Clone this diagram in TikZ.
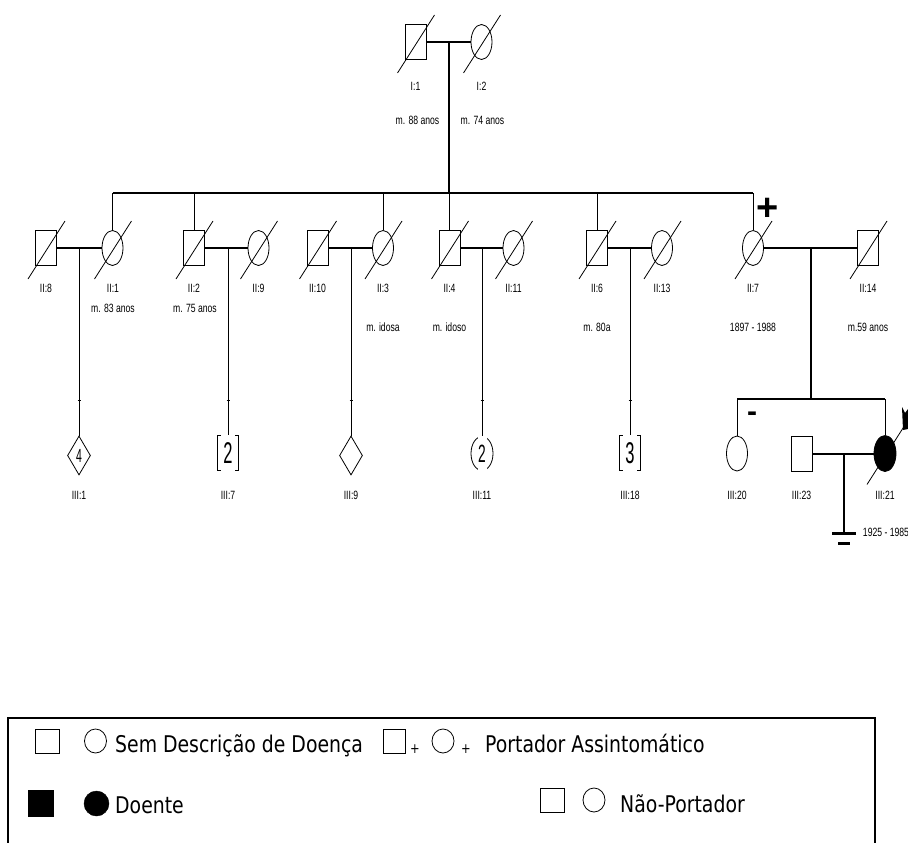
\documentclass[tikz,border=0pt]{standalone}
\usepackage{fontspec}
\setmainfont{Liberation Sans}
\newfontfamily\narrowfont[FakeStretch=0.72]{Liberation Sans}
\newfontfamily\numfont[FakeStretch=0.55]{Liberation Sans}
\newfontfamily\legendfont[FakeStretch=0.82]{DejaVu Sans}
\usetikzlibrary{shapes.geometric}
\newcommand\deadmark[1]{\draw[thinl] ([shift={(-18,31)}]#1.center) -- ([shift={(19,-27)}]#1.center);}
\begin{document}
\begin{tikzpicture}[x=1pt,y=-1pt,
  thinl/.style={line width=0.8pt},
  thickl/.style={line width=2pt},
  male/.style={draw, rectangle, minimum width=21pt, minimum height=35pt, inner sep=0pt, line width=0.8pt},
  female/.style={draw, ellipse, minimum width=21pt, minimum height=35pt, inner sep=0pt, line width=0.8pt},
  unk/.style={draw, diamond, minimum width=23pt, minimum height=39pt, inner sep=0pt, line width=0.8pt},
  lbl/.style={font=\narrowfont\fontsize{12}{12}\selectfont, inner sep=0pt},
  bignum/.style={fill=white, inner sep=0pt, minimum width=14pt, minimum height=40pt, font=\numfont\fontsize{30}{30}\selectfont},
  legtxt/.style={font=\legendfont\fontsize{23}{23}\selectfont, inner sep=0pt, anchor=base west},
  legsq/.style={draw, rectangle, minimum width=24pt, minimum height=24pt, inner sep=0pt, line width=0.8pt},
  legci/.style={draw, ellipse, minimum width=22pt, minimum height=24pt, inner sep=0pt, line width=0.8pt},
  tick/.style={line width=0.8pt}]
\useasboundingbox (0,0) rectangle (908,843);
\clip (0,0) rectangle (908,843);
% ---------------- Generation I
\node[male] (I1) at (415.5,42) {};
\node[female] (I2) at (481.5,42) {};
\deadmark{I1}\deadmark{I2}
\draw[thickl] (I1.east) -- (I2.west);
\coordinate (m1) at (449,42);
\coordinate (s1) at (449,193);
\draw[thickl] (m1) -- (s1);
\node[lbl] (lI1) at (415.5,86) {I:1};
\node[lbl] (lI2) at (481.5,86) {I:2};
\node[lbl] (dI1) at (417.5,120) {m. 88 anos};
\node[lbl] (dI2) at (482.5,120) {m. 74 anos};
% ---------------- Generation II
\node[male] (II8) at (46,248) {};
\node[female] (II1) at (112.5,248) {};
\node[male] (II2) at (194,248) {};
\node[female] (II9) at (258.5,248) {};
\node[male] (II10) at (317.5,248) {};
\node[female] (II3) at (383,248) {};
\node[male] (II4) at (449.5,248) {};
\node[female] (II11) at (513.5,248) {};
\node[male] (II6) at (597,248) {};
\node[female] (II13) at (662,248) {};
\node[female] (II7) at (753,248) {};
\node[male] (II14) at (868,248) {};
\foreach \n in {II8,II1,II2,II9,II10,II3,II4,II11,II6,II13,II7,II14}{\deadmark{\n}}
% sibship
\draw[thickl] (II1.north |- s1) -- (II7.north |- s1);
\foreach \n in {II1,II2,II3,II4,II6,II7}{\draw[thinl] (\n.north |- s1) -- (\n.north);}
% marriages
\draw[thickl] (II8.east) -- (II1.west);
\draw[thickl] (II2.east) -- (II9.west);
\draw[thickl] (II10.east) -- (II3.west);
\draw[thickl] (II4.east) -- (II11.west);
\draw[thickl] (II6.east) -- (II13.west);
\draw[thickl] (II7.east) -- (II14.west);
% labels
\node[lbl] (lII8) at (46,288) {II:8};
\node[lbl] (lII1) at (113,288) {II:1};
\node[lbl] (lII2) at (194,288) {II:2};
\node[lbl] (lII9) at (258.5,288) {II:9};
\node[lbl] (lII10) at (317.5,288) {II:10};
\node[lbl] (lII3) at (383,288) {II:3};
\node[lbl] (lII4) at (449.5,288) {II:4};
\node[lbl] (lII11) at (513.5,288) {II:11};
\node[lbl] (lII6) at (597,288) {II:6};
\node[lbl] (lII13) at (662,288) {II:13};
\node[lbl] (lII7) at (753,288) {II:7};
\node[lbl] (lII14) at (868,288) {II:14};
\node[lbl] (dII1) at (113,308) {m. 83 anos};
\node[lbl] (dII2) at (195,308) {m. 75 anos};
\node[lbl] (dII3) at (383,327) {m. idosa};
\node[lbl] (dII4) at (449.5,327) {m. idoso};
\node[lbl] (dII6) at (597,327) {m. 80a};
\node[lbl] (dII7) at (753,327) {1897 - 1988};
\node[lbl] (dII14) at (868,327) {m.59 anos};
\node[inner sep=0pt, font=\bfseries\fontsize{38}{38}\selectfont] (plus7) at (768,209) {+};
% ---------------- Generation III
\node[unk, font=\numfont\fontsize{19}{19}\selectfont] (III1) at (79,455.5) {4};
\node[male] (III7) at (228,453) {};
\node[bignum] (nIII7) at (228,453) {2};
\node[unk] (III9) at (351,455.5) {};
\node[female, minimum width=22pt, minimum height=34pt] (III11) at (482,453.5) {};
\node[bignum, minimum width=9pt, minimum height=36pt, font=\numfont\fontsize{25}{25}\selectfont] (nIII11) at (482,453.5) {2};
\node[male] (III18) at (630,453) {};
\node[bignum] (nIII18) at (630,453) {3};
% descent lines
\coordinate (c1) at (79,248);
\coordinate (c2) at (228,248);
\coordinate (c3) at (351,248);
\coordinate (c4) at (482,248);
\coordinate (c5) at (630,248);
\draw[thinl] (c1) -- (III1.north);
\draw[thinl] (c2) -- (III7.north);
\draw[thinl] (c3) -- (III9.north);
\draw[thinl] (c4) -- (III11.north);
\draw[thinl] (c5) -- (III18.north);
\foreach \x in {79,228,351,482,630}{\draw[tick] (\x-1.5,400) -- (\x+1.5,400);}
% II:7 family
\node[female] (III20) at (737,453.5) {};
\node[male] (III23) at (801.5,453.5) {};
\node[female, fill=black, minimum width=22pt, minimum height=36pt] (III21) at (885,453.5) {};
\deadmark{III21}
\coordinate (c6) at (811,248);
\coordinate (s3) at (811,399);
\draw[thickl] (c6) -- (s3);
\draw[thickl] (III20.north |- s3) -- (III21.north |- s3);
\draw[thinl] (III20.north |- s3) -- (III20.north);
\draw[thinl] (III21.north |- s3) -- (III21.north);
\draw[thickl] (III23.east) -- (III21.west);
\coordinate (c7) at (844,453.5);
\coordinate (nb) at (844,533);
\draw[thickl] (c7) -- (nb);
\draw[line width=3pt] ([xshift=-12pt]nb) -- ([xshift=12pt]nb);
\draw[line width=3pt] (838,543) -- (850,543);
\node[inner sep=0pt, font=\bfseries\fontsize{30}{30}\selectfont] (minus20) at (752,417) {-};
\fill (902,407) -- (905,413) -- (908,409) -- (908,429) -- (903,430) -- cycle;
\node[lbl] (lIII1) at (79,495) {III:1};
\node[lbl] (lIII7) at (228,495) {III:7};
\node[lbl] (lIII9) at (351,495) {III:9};
\node[lbl] (lIII11) at (482,495) {III:11};
\node[lbl] (lIII18) at (630,495) {III:18};
\node[lbl] (lIII20) at (737,495) {III:20};
\node[lbl] (lIII23) at (801.5,495) {III:23};
\node[lbl] (lIII21) at (885,495) {III:21};
\node[lbl] (dIII21) at (886,532) {1925 - 1985};
% ---------------- Legend
\draw[line width=1.5pt] (8,860) -- (8,718) -- (875,718) -- (875,860);
\node[legsq] (lg1) at (47,741) {};
\node[legci] (lg2) at (95.5,741) {};
\node[legtxt] (lt1) at (115,752) {Sem Descrição de Doença};
\node[legsq, minimum width=22pt] (lg3) at (394,741) {};
\node[font=\legendfont\fontsize{14}{14}\selectfont, inner sep=0pt] (lp3) at (415,749) {+};
\node[legci] (lg4) at (443,741) {};
\node[font=\legendfont\fontsize{14}{14}\selectfont, inner sep=0pt] (lp4) at (466,749) {+};
\node[legtxt] (lt2) at (485,752) {Portador Assintomático};
\node[draw, fill=black, rectangle, minimum width=25pt, minimum height=26pt, inner sep=0pt] (lg5) at (40.5,803) {};
\node[draw, fill=black, ellipse, minimum width=25pt, minimum height=25pt, inner sep=0pt] (lg6) at (96.5,803.5) {};
\node[legtxt] (lt3) at (115,813) {Doente};
\node[legsq] (lg7) at (552,800) {};
\node[legci] (lg8) at (594,800) {};
\node[legtxt] (lt4) at (620,812) {Não-Portador};
\end{tikzpicture}
\end{document}
